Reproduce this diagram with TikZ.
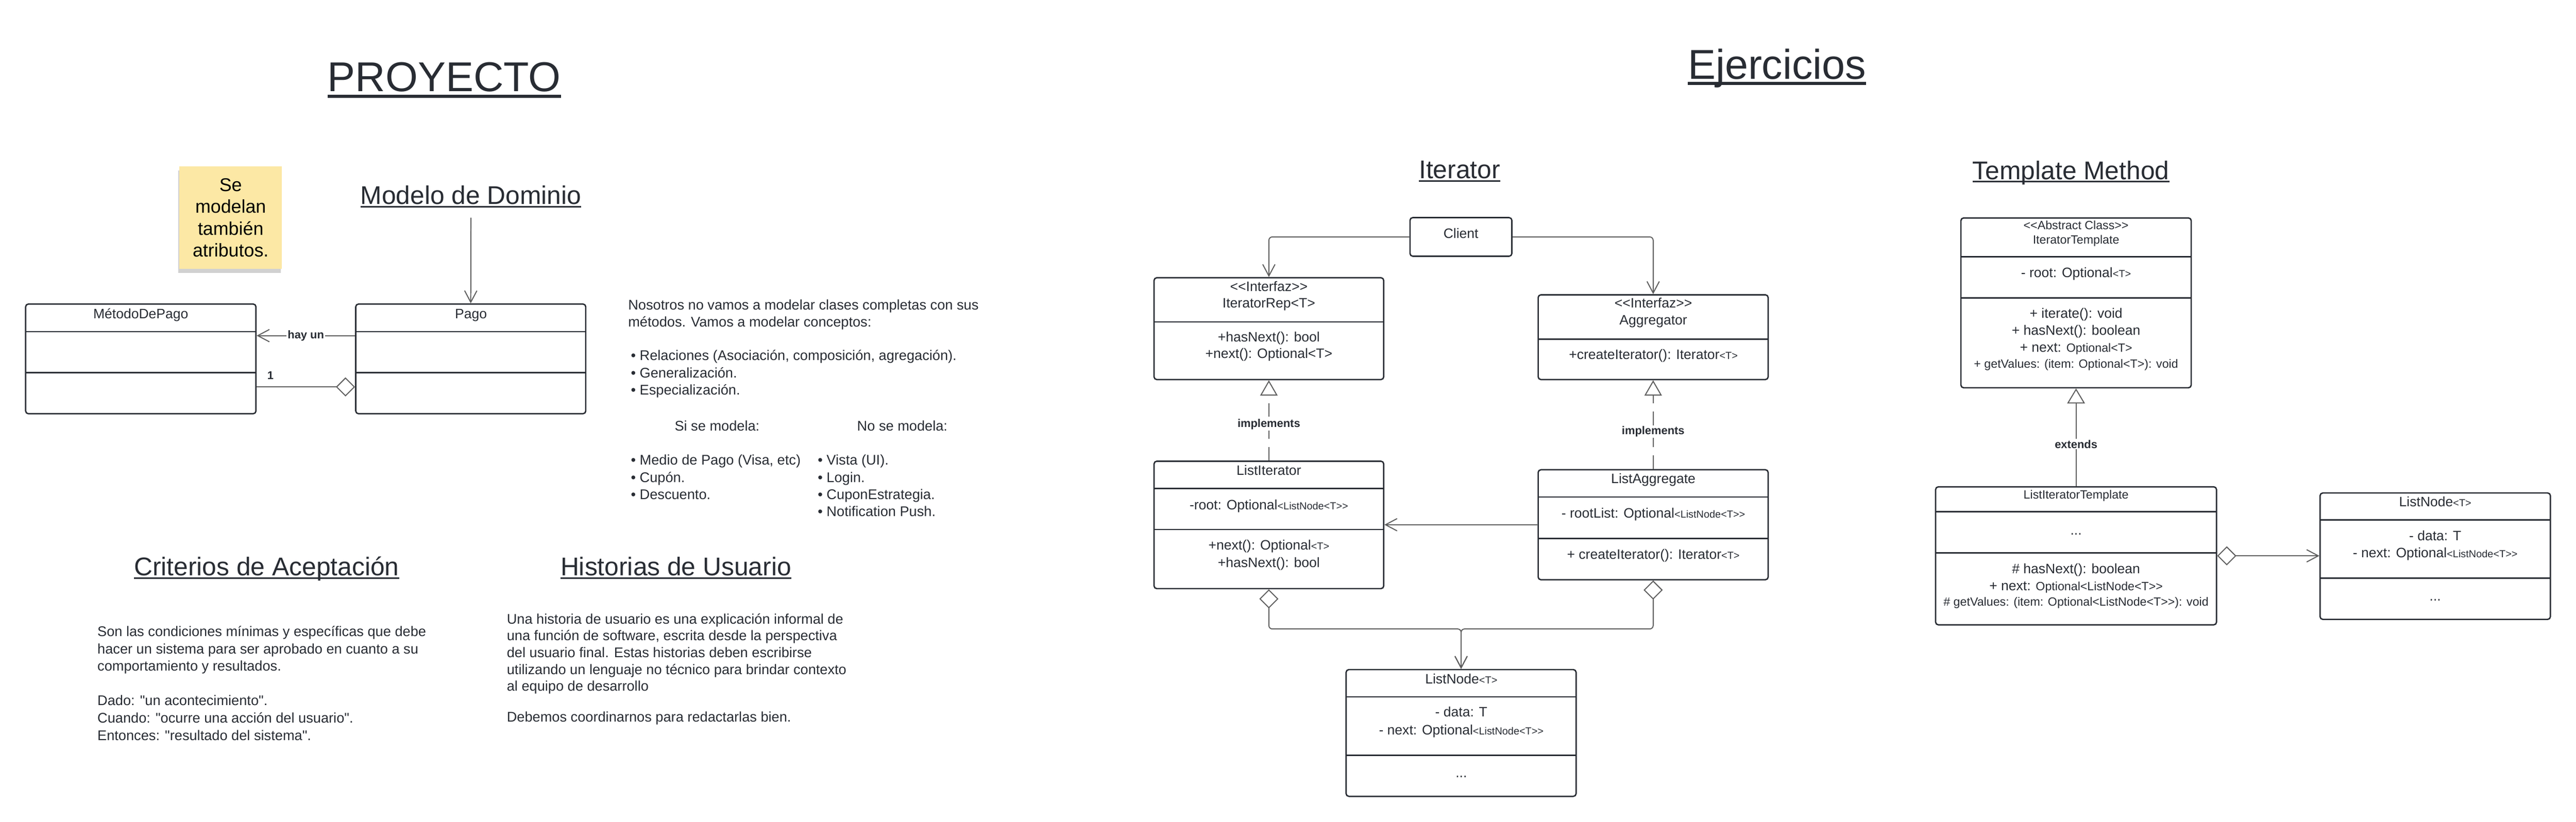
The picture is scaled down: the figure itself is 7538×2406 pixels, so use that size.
\documentclass[tikz,border=0pt]{standalone}
\usepackage{fontspec}
\newfontfamily\lib{Liberation Sans}
\usetikzlibrary{arrows.meta,fit,shadows}
\definecolor{ink}{RGB}{40,44,51}
\definecolor{wirecol}{RGB}{94,94,94}
\definecolor{sticky}{RGB}{252,232,165}
\newcommand\smtxt[1]{{\fontsize{30}{36}\selectfont #1}}
\newcommand\mdtxt[1]{{\fontsize{35}{42}\selectfont #1}}

\begin{document}
\begin{tikzpicture}[x=1pt, y=-1pt, line join=round,
	>={Straight Barb[length=34pt,width=36pt]},
	every node/.style={text=ink, inner sep=0pt},
	ttl/.style={font=\lib\fontsize{122}{140}\selectfont, anchor=base},
	hd/.style={font=\lib\fontsize{75}{90}\selectfont, anchor=base},
	txt/.style={font=\lib\fontsize{41}{50}\selectfont, anchor=mid west},
	ctxt/.style={font=\lib\fontsize{40}{48}\selectfont, anchor=mid},
	lbl/.style={font=\lib\bfseries\fontsize{33}{40}\selectfont, fill=white, inner sep=3pt},
	mult/.style={font=\lib\bfseries\fontsize{33}{40}\selectfont},
	nota/.style={fill=sticky, text=black, align=center, font=\lib\fontsize{54}{64}\selectfont,
		minimum width=300pt, minimum height=301pt,
		drop shadow={shadow xshift=-3pt, shadow yshift=-12pt, fill=black, opacity=0.18}},
	cls/.style={draw=ink, line width=4pt, rounded corners=8pt, inner sep=0pt},
	clsdiv/.style={draw=ink, line width=4pt},
	conn/.style={draw=wirecol, line width=3pt},
	impl/.style={conn, dash pattern=on 40pt off 24pt, -{Triangle[open,length=45pt,width=51pt]}},
	gen/.style={conn, -{Triangle[open,length=44pt,width=52pt]}},
	hasa/.style={conn, {Diamond[open,length=56pt,width=56pt]}-},
	hasato/.style={conn, {Diamond[open,length=56pt,width=56pt]}->}]
	\path[fill=white, use as bounding box] (0,0) rectangle (7538,2406);
	% titulos
	\node[ttl] (proy) at (1300,268) {PROYECTO};
	\node[ttl] (ejer) at (5200,232) {Ejercicios};
	\node[hd] (modelo) at (1378,598) {Modelo de Dominio};
	\node[hd] (crit) at (780,1684) {Criterios de Aceptación};
	\node[hd] (hist) at (1978,1684) {Historias de Usuario};
	\node[hd] (iter) at (4271,523) {Iterator};
	\node[hd] (tmpl) at (6060,525) {Template Method};
	\foreach \n/\d/\w in {proy/14/10, ejer/12/9, modelo/7/5, crit/8/5, hist/8/5, iter/7/5, tmpl/6/5}
		\draw[ink, line width=\w pt] ([yshift=-\d pt]\n.base west) -- ([yshift=-\d pt]\n.base east);
	\node[nota] (nota) at (675,637) {Se\\modelan\\también\\atributos.};
	% clases
	\node[cls, fit={(75,890) (749,1211)}] (metodo) {};
	\node[cls, fit={(1041,890) (1714,1211)}] (pago) {};
	\node[cls, fit={(4126,637) (4424,750)}] (client) {};
	\node[cls, fit={(3377,813) (4049,1111)}] (itrep) {};
	\node[cls, fit={(4501,863) (5174,1111)}] (aggreg) {};
	\node[cls, fit={(3377,1350) (4049,1723)}] (listit) {};
	\node[cls, fit={(4501,1375) (5174,1697)}] (listagg) {};
	\node[cls, fit={(3939,1960) (4612,2331)}] (listnode) {};
	\node[cls, fit={(5738,638) (6412,1135)}] (itertpl) {};
	\node[cls, fit={(5664,1425) (6486,1829)}] (listittpl) {};
	\node[cls, fit={(6789,1443) (7463,1813)}] (listnode2) {};
	\foreach \a/\b/\y in {75/749/971, 75/749/1091, 1041/1714/971, 1041/1714/1091,
		3377/4049/942, 4501/5174/993, 3377/4049/1430, 3377/4049/1550,
		4501/5174/1455, 4501/5174/1576, 3939/4612/2040, 3939/4612/2211,
		5738/6412/752, 5738/6412/872, 5664/6486/1498, 5664/6486/1618,
		6789/7463/1522, 6789/7463/1692}
		\draw[clsdiv] (\a,\y) -- (\b,\y);
	\foreach \x/\y/\t [count=\i] in {412/930/{MétodoDePago}, 1378/930/{Pago}, 4275/695/{Client},
		3713/850/{<<Interfaz>>}, 3713/899/{IteratorRep<T>}, 3713/998/{+hasNext(): bool}, 3713/1047/{+next(): Optional<T>},
		4838/899/{<<Interfaz>>}, 4838/949/{Aggregator}, 4838/1050/{+createIterator(): Iterator\smtxt{<T>}},
		3713/1389/{ListIterator}, 3713/1490/{-root: Optional\smtxt{<ListNode<T>>}},
		3713/1607/{+next(): Optional\smtxt{<T>}}, 3713/1658/{+hasNext(): bool},
		4838/1413/{ListAggregate}, 4838/1514/{- rootList: Optional\smtxt{<ListNode<T>>}},
		4838/1635/{+ createIterator(): Iterator\smtxt{<T>}},
		4276/1999/{ListNode\smtxt{<T>}}, 4276/2096/{- data: T}, 4276/2148/{- next: Optional\smtxt{<ListNode<T>>}}, 4276/2273/{...},
		6075/670/{\mdtxt{<<Abstract Class>>}}, 6075/712/{\mdtxt{IteratorTemplate}}, 6075/809/{- root: Optional\smtxt{<T>}},
		6075/929/{+ iterate(): void}, 6075/978/{+ hasNext(): boolean}, 6075/1029/{+ next: \mdtxt{Optional<T>}},
		6075/1075/{\mdtxt{+ getValues: (item: Optional<T>): void}},
		6075/1458/{\mdtxt{ListIteratorTemplate}}, 6075/1563/{...}, 6075/1676/{\# hasNext(): boolean},
		6075/1727/{+ next: \mdtxt{Optional<ListNode<T>>}}, 6075/1771/{\mdtxt{\# getValues: (item: Optional<ListNode<T>>): void}},
		7126/1480/{ListNode\smtxt{<T>}}, 7126/1580/{- data: T}, 7126/1630/{- next: Optional\smtxt{<ListNode<T>>}}, 7126/1757/{...}}
		\node[ctxt] (c\i) at (\x,\y) {\t};
	% textos
	\foreach \x/\y/\t [count=\i] in {1838/905/{Nosotros no vamos a modelar clases completas con sus},
		1838/955/{métodos. Vamos a modelar conceptos:},
		1846/1053/{• Relaciones (Asociación, composición, agregación).},
		1846/1103/{• Generalización.}, 1846/1153/{• Especialización.},
		1974/1259/{Si se modela:}, 2508/1259/{No se modela:},
		1846/1358/{• Medio de Pago (Visa, etc)}, 1846/1409/{• Cupón.}, 1846/1459/{• Descuento.},
		2393/1358/{• Vista (UI).}, 2393/1409/{• Login.}, 2393/1459/{• CuponEstrategia.}, 2393/1509/{• Notification Push.},
		285/1860/{Son las condiciones mínimas y específicas que debe},
		285/1911/{hacer un sistema para ser aprobado en cuanto a su},
		285/1962/{comportamiento y resultados.},
		285/2063/{Dado: "un acontecimiento".},
		285/2114/{Cuando: "ocurre una acción del usuario".},
		285/2165/{Entonces: "resultado del sistema".},
		1483/1824/{Una historia de usuario es una explicación informal de},
		1483/1873/{una función de software, escrita desde la perspectiva},
		1483/1923/{del usuario final. Estas historias deben escribirse},
		1483/1972/{utilizando un lenguaje no técnico para brindar contexto},
		1483/2020/{al equipo de desarrollo},
		1483/2110/{Debemos coordinarnos para redactarlas bien.}}
		\node[txt] (t\i) at (\x,\y) {\t};
	% relaciones
	\coordinate (dom) at (1378,637);
	\draw[conn,->] (dom) -- (pago.north);
	\draw[conn,->] ([yshift=68pt]pago.west) -- ([yshift=68pt]metodo.east) node[lbl,midway]{hay un};
	\draw[hasa] ([yshift=-82pt]pago.west) -- ([yshift=-82pt]metodo.east) node[mult,pos=0.86,above=20pt]{1};
	\draw[conn,->,rounded corners=10pt] (client.west) -| (itrep.north);
	\draw[conn,->,rounded corners=10pt] (client.east) -| (aggreg.north);
	\draw[impl] (listit.north) -- (itrep.south) node[lbl,pos=0.45]{implements};
	\draw[impl] (listagg.north) -- (aggreg.south) node[lbl,pos=0.42]{implements};
	\draw[conn,->] (listagg.west) -- (listagg.west -| listit.east);
	\draw[hasato,rounded corners=10pt] (listit.south) -- ++(0,116) -| (listnode.north);
	\draw[hasato,rounded corners=10pt] (listagg.south) -- ++(0,142) -| (listnode.north);
	\draw[gen] (listittpl.north) -- (itertpl.south) node[lbl,pos=0.43]{extends};
	\draw[hasato] (listittpl.east) -- (listittpl.east -| listnode2.west);
\end{tikzpicture}
\end{document}
